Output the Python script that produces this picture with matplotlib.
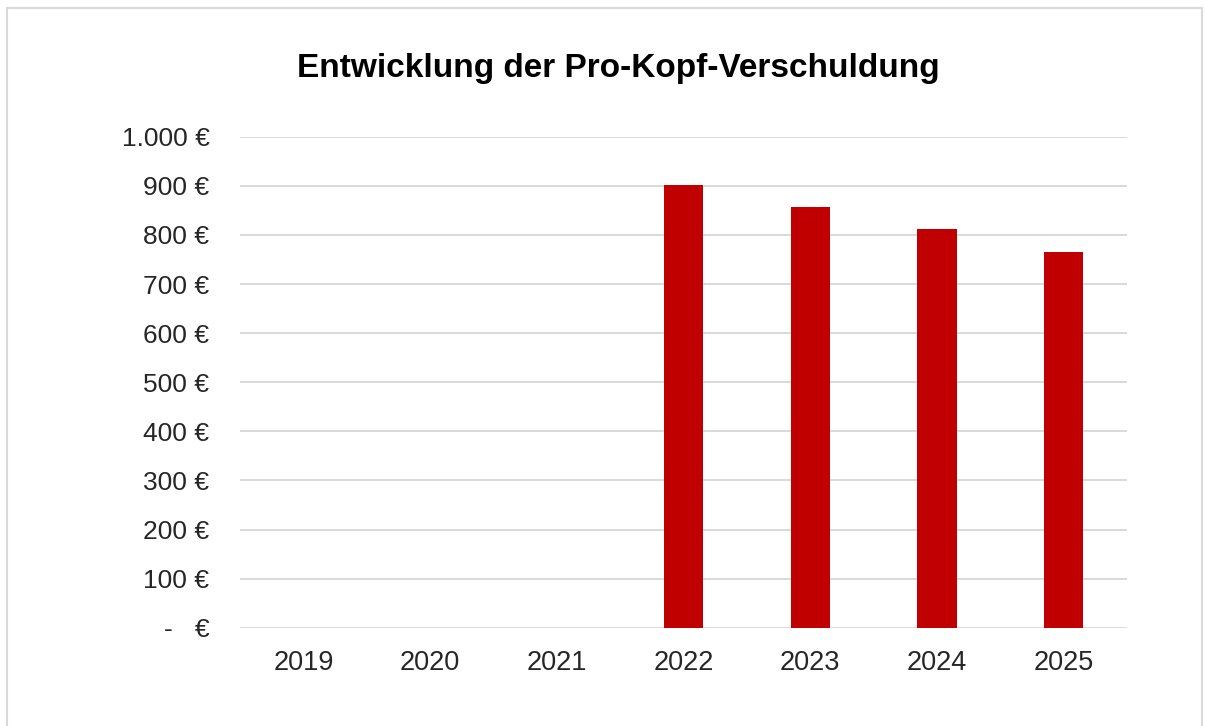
import matplotlib
matplotlib.use('Agg')
import matplotlib.pyplot as plt
from matplotlib.patches import Rectangle

plt.rcParams['font.family'] = ['Liberation Sans', 'DejaVu Sans']

# data
years = ['2019', '2020', '2021', '2022', '2023', '2024', '2025']
debt_per_capita = [0, 0, 0, 902, 857, 811, 766]
yticks = [0, 100, 200, 300, 400, 500, 600, 700, 800, 900, 1000]
ytick_labels = ['-   €', '100 €', '200 €', '300 €', '400 €', '500 €',
                '600 €', '700 €', '800 €', '900 €', '1.000 €']

fig = plt.figure(figsize=(12.06, 7.26), dpi=100)
ax = fig.add_axes([240/1206, 1-627.7/726, (1127-240)/1206, (627.7-136.7)/726])

x = range(len(years))
ax.bar(x, debt_per_capita, width=0.31, color='#C00000', zorder=3)

ax.set_xlim(-0.5, len(years)-0.5)
ax.set_ylim(0, 1000)
ax.set_xticks(list(x))
ax.set_xticklabels(years, fontsize=19.5, color='#262626')
ax.set_yticks(yticks)
ax.set_yticklabels(ytick_labels, fontsize=19, color='#262626')
ax.tick_params(axis='both', length=0)
ax.tick_params(axis='y', pad=22)
ax.tick_params(axis='x', pad=16)
ax.grid(axis='y', color='#d9d9d9', linewidth=1.4, zorder=0)
ax.set_axisbelow(True)
for s in ax.spines.values():
    s.set_visible(False)

fig.text(618/1206, 1-68/726, 'Entwicklung der Pro-Kopf-Verschuldung',
         ha='center', va='center', fontsize=24, fontweight='bold', color='black')

# light frame around the chart area
fig.patches.append(Rectangle((7/1206, -0.05), (1202-7)/1206, 1.05-8/726,
                             transform=fig.transFigure, fill=False,
                             edgecolor='#d9d9d9', linewidth=1.5))

fig.savefig('out.png', dpi=100)
